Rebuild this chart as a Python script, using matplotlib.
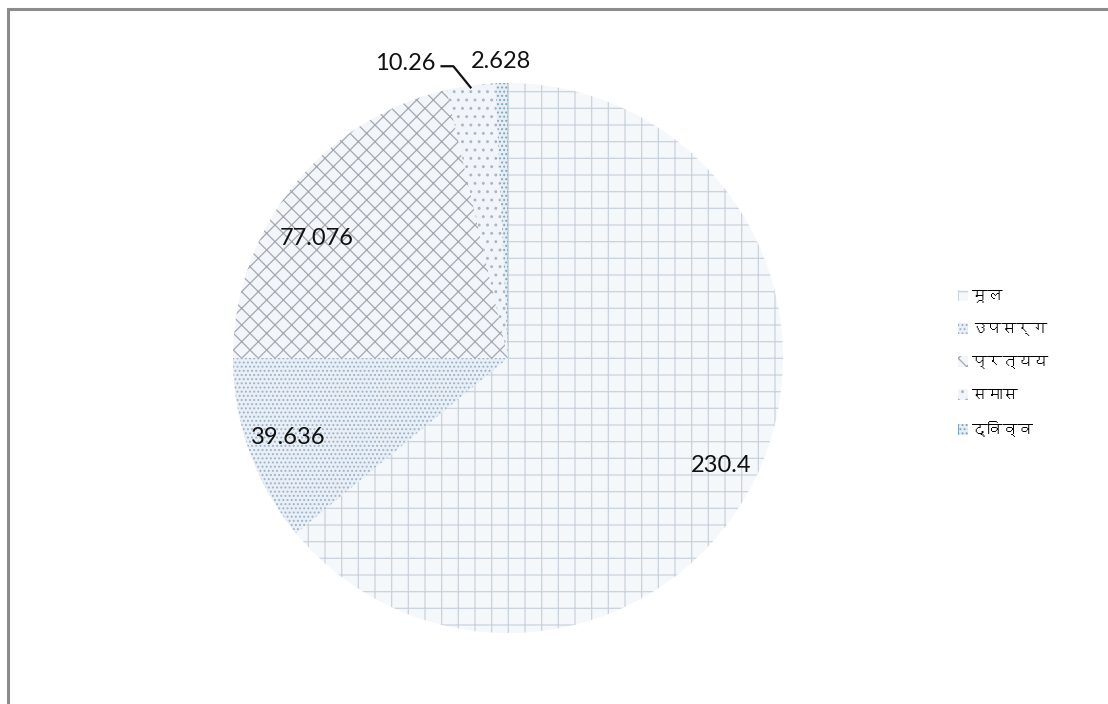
import matplotlib
matplotlib.use("Agg")
import matplotlib.pyplot as plt
from matplotlib import font_manager
from matplotlib.ft2font import FT2Font
from matplotlib.patches import Rectangle
import numpy as np

# data
labels = ["मूल", "उपसर्ग", "प्रत्यय", "समास", "द्विव्व"]
values = [230.4, 39.636, 77.076, 10.26, 2.628]
value_text = ["230.4", "39.636", "77.076", "10.26", "2.628"]


def find_devanagari_font():
    # look for any installed font that has devanagari glyphs
    for f in font_manager.fontManager.ttflist:
        try:
            cmap = FT2Font(f.fname).get_charmap()
        except Exception:
            continue
        if 0x092E in cmap and 0x0942 in cmap:
            return f.name
    return None


deva = find_devanagari_font()
fams = ["Lato", "DejaVu Sans"]
if deva:
    fams = ["Lato", deva, "DejaVu Sans"]
plt.rcParams["font.family"] = fams
plt.rcParams["hatch.linewidth"] = 0.9

W, H = 1108, 704
fig = plt.figure(figsize=(W / 100, H / 100), dpi=100)

# outer frame (only top and left visible)
fig.patches.append(Rectangle((8 / W, -0.1), 1.2, (H - 9) / H + 0.1, transform=fig.transFigure,
                             fill=False, edgecolor="#8c8c8c", lw=2.2))

cx, cy, R = 508, 358, 275
ax = fig.add_axes([(cx - R) / W, (H - cy - R) / H, 2 * R / W, 2 * R / H])

hatches = ["+", "....", "xx", "..", "|...."]
faces = ["#f5f8fb", "#e9eff6", "#f2f5f9", "#f1f5f9", "#e6edf4"]
hcols = ["#cad2dc", "#9fb2c6", "#a4a9b1", "#a9b6c4", "#7ea4b8"]

wedges, _ = ax.pie(values, startangle=90, counterclock=False, radius=1,
                   wedgeprops=dict(linewidth=0))
for w, h, fc, hc in zip(wedges, hatches, faces, hcols):
    w.set_facecolor(fc)
    w.set_hatch(h)
    w.set_edgecolor(hc)
    w.set_linewidth(0)

ax.set_xlim(-1, 1)
ax.set_ylim(-1, 1)
ax.set_aspect("equal")
ax.axis("off")

# value labels: (radius, angle offset in degrees) per slice
lab_r = [0.87, 0.85, 0.82, None, 1.08]
lab_off = [-1.6, 0, 6.6, 0, 0]
for i, w in enumerate(wedges):
    if lab_r[i] is None:
        continue
    mid = np.deg2rad((w.theta1 + w.theta2) / 2 + lab_off[i])
    ax.text(lab_r[i] * np.cos(mid), lab_r[i] * np.sin(mid), value_text[i],
            ha="center", va="center", fontsize=17, color="#111111", clip_on=False)

# leader line for the 10.26 label
m3 = np.deg2rad((wedges[3].theta1 + wedges[3].theta2) / 2)
sx, sy = 0.99 * np.cos(m3), 0.99 * np.sin(m3)
lx = [sx, sx - 0.065, sx - 0.112]
ly = [sy, sy + 0.08, sy + 0.08]
ax.plot(lx, ly, color="#111111", lw=1.6, clip_on=False, solid_capstyle="butt")
ax.text(lx[-1] - 0.018, ly[-1] + 0.01, value_text[3], ha="right", va="center",
        fontsize=17, color="#111111", clip_on=False)

leg = fig.legend(wedges, labels, loc="center left", bbox_to_anchor=(0.852, 0.483),
                 frameon=False, fontsize=11, handlelength=0.7, handleheight=0.7,
                 handletextpad=0.2, labelspacing=1.25)

fig.savefig("out.png", dpi=100, facecolor="white")
